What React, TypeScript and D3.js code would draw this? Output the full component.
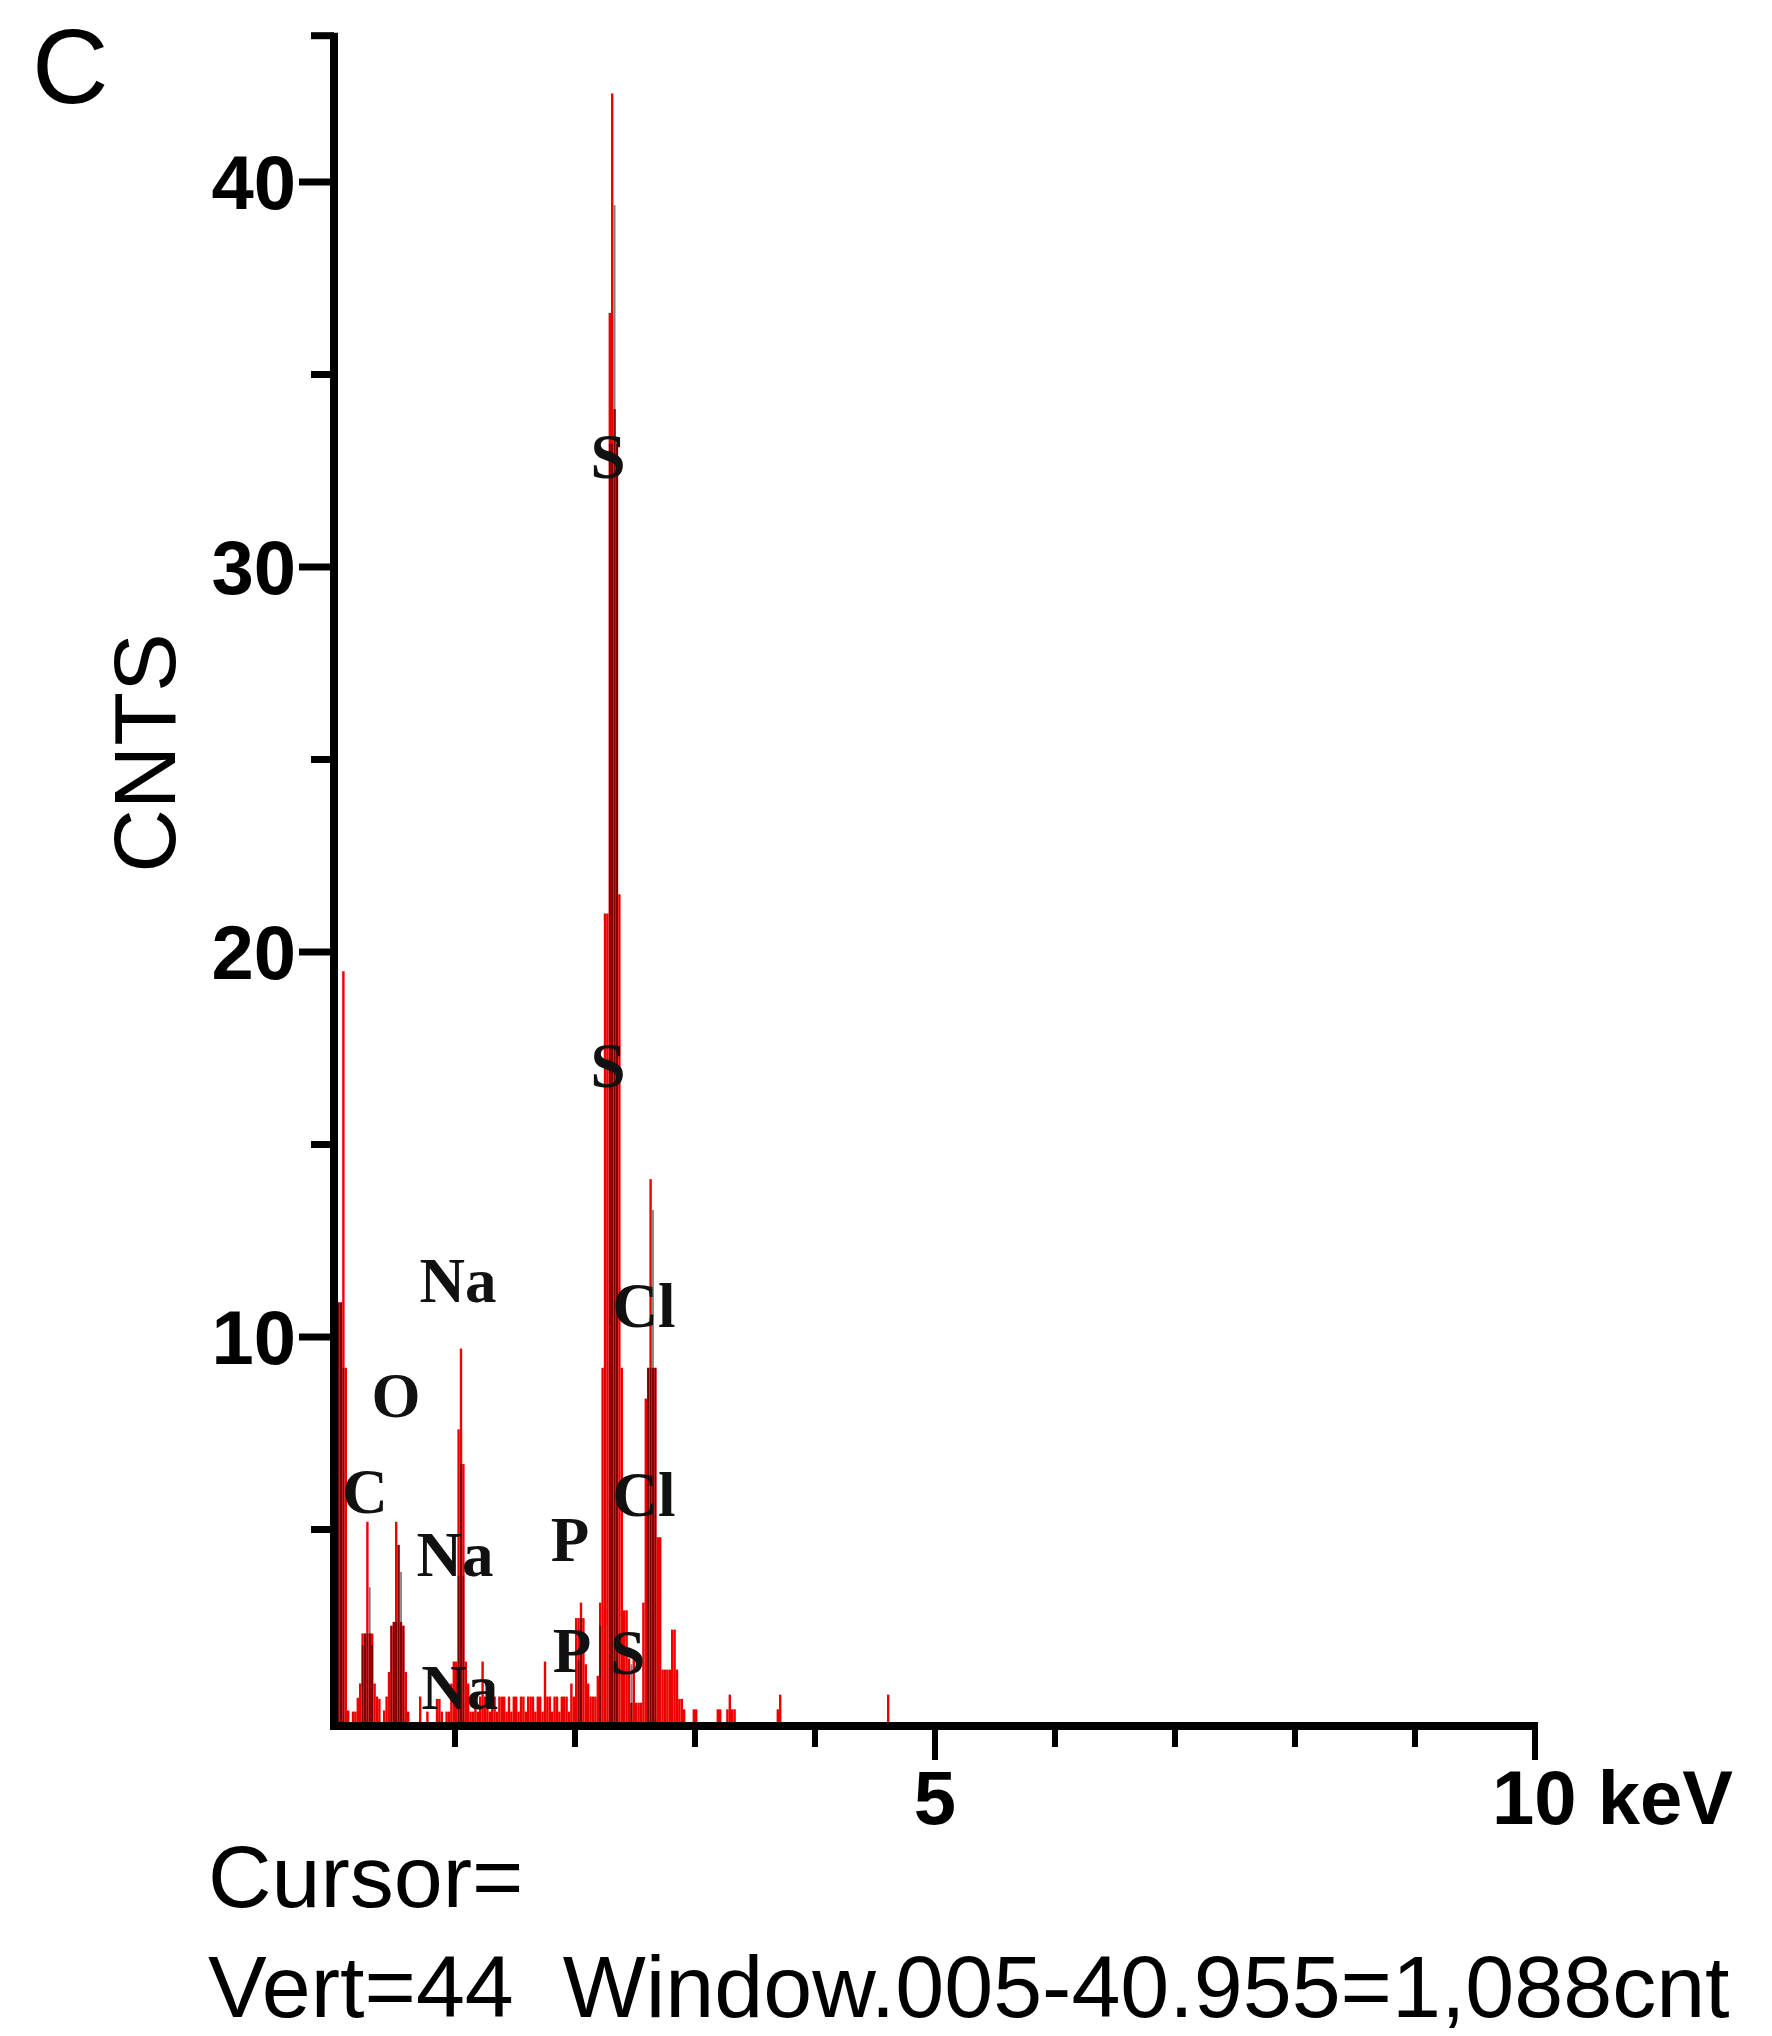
import * as d3 from "d3";
import { useEffect, useRef } from "react";

// channel width of the EDS spectrum (keV)
const CHANNEL = 0.02;

// red spectrum: channel start energy (keV) and counts
const redKeV = [
  0.0, 0.02, 0.04, 0.06, 0.08, 0.1, 0.14, 0.16, 0.18, 0.2, 0.22, 0.24, 0.26, 0.28, 0.3, 0.32, 0.34, 0.36,
  0.4, 0.42, 0.44, 0.46, 0.48, 0.5, 0.52, 0.54, 0.56, 0.58, 0.6, 0.7, 0.76, 0.84, 0.86, 0.88, 0.92, 0.94,
  0.96, 0.98, 1.0, 1.02, 1.04, 1.06, 1.08, 1.1, 1.12, 1.14, 1.16, 1.18, 1.2, 1.22, 1.24, 1.26, 1.28, 1.3,
  1.32, 1.34, 1.36, 1.38, 1.4, 1.42, 1.44, 1.46, 1.48, 1.5, 1.52, 1.54, 1.56, 1.58, 1.6, 1.62, 1.64, 1.66,
  1.68, 1.7, 1.72, 1.74, 1.76, 1.78, 1.8, 1.82, 1.84, 1.86, 1.88, 1.9, 1.92, 1.94, 1.96, 1.98, 2.0, 2.02,
  2.04, 2.06, 2.08, 2.1, 2.12, 2.14, 2.16, 2.18, 2.2, 2.22, 2.24, 2.26, 2.28, 2.3, 2.32, 2.34, 2.36, 2.38,
  2.4, 2.42, 2.44, 2.46, 2.48, 2.5, 2.52, 2.54, 2.56, 2.58, 2.6, 2.62, 2.64, 2.66, 2.68, 2.7, 2.72, 2.74,
  2.76, 2.78, 2.8, 2.82, 2.84, 2.86, 2.88, 2.9, 2.98, 3.0, 3.18, 3.2, 3.26, 3.28, 3.3, 3.32, 3.68, 3.7,
  4.6,
];
const redCnt = [
  10.8, 10.9, 10.9, 19.5, 9.2, 0.3, 0.27, 0.27, 0.63, 1.0, 2.3, 2.3, 5.2, 2.3, 2.3, 1.0, 0.66, 0.6,
  0.3, 0.66, 1.3, 2.5, 2.6, 5.2, 4.6, 2.6, 2.5, 1.3, 0.27, 0.66, 0.27, 0.6, 0.6, 0.27, 0.27, 0.27,
  1.0, 1.57, 1.57, 7.6, 9.7, 6.7, 1.57, 1.0, 0.27, 0.27, 0.66, 0.27, 0.66, 1.57, 0.66, 0.66, 0.27, 0.66,
  0.66, 0.27, 0.66, 0.66, 0.66, 0.27, 0.66, 0.27, 0.66, 0.66, 0.27, 0.66, 0.66, 0.27, 0.66, 0.66, 0.66, 0.27,
  0.66, 0.66, 0.27, 1.57, 0.66, 0.66, 0.27, 0.66, 0.66, 0.27, 0.66, 0.66, 0.66, 0.27, 1.0, 0.66, 2.7, 2.7,
  3.1, 2.7, 1.5, 1.0, 0.66, 0.66, 0.66, 1.2, 3.1, 9.2, 21.0, 21.0, 36.6, 42.3, 34.1, 33.2, 21.5, 9.2,
  2.9, 2.9, 1.65, 0.5, 1.65, 0.5, 0.5, 0.5, 3.1, 8.4, 9.2, 14.1, 9.2, 9.2, 4.8, 4.8, 1.36, 1.36,
  1.36, 1.36, 2.4, 2.4, 1.36, 0.6, 0.6, 0.33, 0.33, 0.33, 0.33, 0.33, 0.33, 0.71, 0.33, 0.33, 0.33, 0.71,
  0.71,
];

// second (dark) spectrum overlaid on the red one
const darkKeV = [
  0.02, 0.04, 0.06, 0.22, 0.24, 0.26, 0.28, 0.3, 0.46, 0.48, 0.5, 0.52, 0.54, 0.56, 1.02, 1.04, 1.06,
  2.02, 2.04, 2.2, 2.28, 2.3, 2.32, 2.34, 2.46, 2.6, 2.62, 2.64, 2.66,
];
const darkCnt = [
  10.9, 10.9, 9.2, 2.0, 2.3, 2.3, 3.5, 2.0, 2.5, 2.6, 2.6, 4.6, 3.9, 2.5, 3.8, 6.7, 3.8,
  1.6, 2.7, 2.5, 33.2, 33.2, 39.4, 33.2, 1.5, 9.2, 9.2, 13.3, 9.2,
];

// element labels (keV, counts at baseline)
const peakLabel = ["S", "S", "Na", "Cl", "O", "C", "Cl", "Na", "P", "P", "S", "Na"];
const peakKeV = [2.275, 2.275, 1.025, 2.575, 0.508, 0.25, 2.575, 1.0, 1.958, 1.975, 2.44, 1.04];
const peakCnt = [32.3, 16.5, 10.9, 10.26, 7.92, 5.43, 5.35, 3.79, 4.18, 1.3, 1.25, 0.34];

const yTop = 43.8;
const yTicks = [5, 10, 15, 20, 25, 30, 35, 40, yTop];
const yTickLabels = [10, 20, 30, 40];
const xTicks = [1, 2, 3, 4, 5, 6, 7, 8, 9, 10];

const SANS = "'Liberation Sans', Arial, sans-serif";
const SERIF = "'Liberation Serif', 'Times New Roman', serif";

const App = () => {
  const svgRef = useRef(null);

  useEffect(() => {
    const svg = d3.select(svgRef.current);
    svg.selectAll("*").remove();

    const x = d3.scaleLinear().domain([0, 10]).range([335, 1535]);
    const y = d3.scaleLinear().domain([0, 40]).range([1722, 182]);
    const axisX = x(0) - 1;
    const axisY = y(0) + 4;

    // red spectrum
    svg
      .append("g")
      .selectAll("rect")
      .data(redKeV)
      .enter()
      .append("rect")
      .attr("x", (d) => x(d))
      .attr("width", (d) => x(d + CHANNEL) - x(d))
      .attr("y", (d, i) => y(redCnt[i]))
      .attr("height", (d, i) => y(0) - y(redCnt[i]))
      .attr("fill", "#ee0000");

    // dark overlay spectrum
    svg
      .append("g")
      .selectAll("rect")
      .data(darkKeV)
      .enter()
      .append("rect")
      .attr("x", (d) => x(d) + 0.3)
      .attr("width", (d) => x(d + CHANNEL) - x(d) - 0.6)
      .attr("y", (d, i) => y(darkCnt[i]))
      .attr("height", (d, i) => y(0) - y(darkCnt[i]))
      .attr("fill", "#000")
      .attr("fill-opacity", 0.5);

    // y axis
    svg
      .append("line")
      .attr("x1", axisX)
      .attr("x2", axisX)
      .attr("y1", axisY + 4)
      .attr("y2", y(yTop) - 3)
      .attr("stroke", "#000")
      .attr("stroke-width", 8);

    svg
      .append("g")
      .selectAll("line")
      .data(yTicks)
      .enter()
      .append("line")
      .attr("x1", (d) => (d % 10 === 0 ? axisX - 35 : axisX - 23))
      .attr("x2", axisX)
      .attr("y1", (d) => y(d))
      .attr("y2", (d) => y(d))
      .attr("stroke", "#000")
      .attr("stroke-width", 7);

    svg
      .append("g")
      .selectAll("text")
      .data(yTickLabels)
      .enter()
      .append("text")
      .attr("x", 296)
      .attr("y", (d) => y(d) + 27)
      .attr("text-anchor", "end")
      .attr("font-family", SANS)
      .attr("font-weight", "bold")
      .attr("font-size", 76)
      .text((d) => d);

    // x axis
    svg
      .append("line")
      .attr("x1", axisX - 4)
      .attr("x2", x(10) + 3)
      .attr("y1", axisY)
      .attr("y2", axisY)
      .attr("stroke", "#000")
      .attr("stroke-width", 8);

    svg
      .append("g")
      .selectAll("line")
      .data(xTicks)
      .enter()
      .append("line")
      .attr("x1", (d) => x(d))
      .attr("x2", (d) => x(d))
      .attr("y1", axisY)
      .attr("y2", (d) => (d % 5 === 0 ? axisY + 34 : axisY + 21))
      .attr("stroke", "#000")
      .attr("stroke-width", 6);

    svg
      .append("text")
      .attr("x", x(5))
      .attr("y", 1824)
      .attr("text-anchor", "middle")
      .attr("font-family", SANS)
      .attr("font-weight", "bold")
      .attr("font-size", 76)
      .text("5");

    svg
      .append("text")
      .attr("x", x(10) - 43)
      .attr("y", 1824)
      .attr("font-family", SANS)
      .attr("font-weight", "bold")
      .attr("font-size", 76)
      .text("10 keV");

    // axis title
    svg
      .append("text")
      .attr("transform", "translate(175, 753) rotate(-90)")
      .attr("text-anchor", "middle")
      .attr("font-family", SANS)
      .attr("font-size", 88)
      .text("CNTS");

    // panel letter
    svg
      .append("text")
      .attr("x", 32)
      .attr("y", 103)
      .attr("font-family", SANS)
      .attr("font-size", 106)
      .text("C");

    // element labels
    svg
      .append("g")
      .selectAll("text")
      .data(peakLabel)
      .enter()
      .append("text")
      .attr("x", (d, i) => x(peakKeV[i]))
      .attr("y", (d, i) => y(peakCnt[i]))
      .attr("text-anchor", "middle")
      .attr("font-family", SERIF)
      .attr("font-weight", "bold")
      .attr("font-size", 63)
      .attr("fill", "#111")
      .text((d) => d);

    // cursor readout
    svg
      .append("text")
      .attr("x", 208)
      .attr("y", 1907)
      .attr("font-family", SANS)
      .attr("font-size", 88)
      .text("Cursor=");

    svg
      .append("text")
      .attr("x", 208)
      .attr("y", 2017)
      .attr("font-family", SANS)
      .attr("font-size", 88)
      .style("white-space", "pre")
      .text("Vert=44  Window.005-40.955=1,088cnt");
  }, []);

  return (
    <svg
      ref={svgRef}
      width={1772}
      height={2036}
      style={{ position: "absolute", left: 0, top: 0, background: "#fff" }}
    ></svg>
  );
};

export default App;
